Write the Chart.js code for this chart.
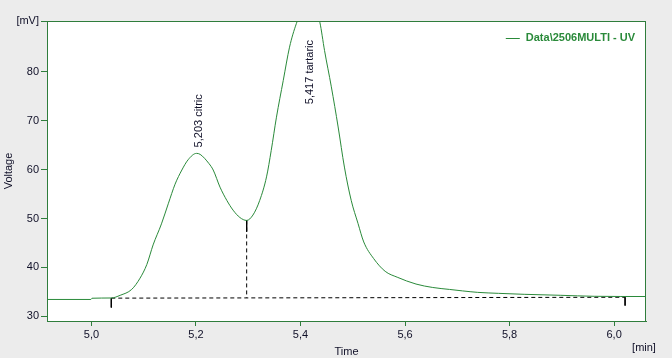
<!DOCTYPE html>
<html>
<head>
<meta charset="utf-8">
<script src="https://cdn.jsdelivr.net/npm/chart.js@4/dist/chart.umd.min.js"></script>
<style>
  html, body { margin: 0; padding: 0; background: #ececec; }
  #wrap { width: 672px; height: 358px; }
</style>
</head>
<body>
<div id="wrap"><canvas id="c" width="672" height="358"></canvas></div>
<script>
// ---- data ----
const timeMin = [4.915, 4.999, 5.001, 5.038, 5.055, 5.077, 5.093, 5.106, 5.118, 5.134, 5.147, 5.160, 5.173, 5.185, 5.201, 5.208, 5.225, 5.233, 5.246, 5.259, 5.271, 5.284, 5.297, 5.309, 5.322, 5.335, 5.344, 5.354, 5.367, 5.379, 5.392, 5.405, 5.417, 5.428, 5.437, 5.446, 5.459, 5.472, 5.484, 5.497, 5.510, 5.521, 5.540, 5.562, 5.585, 5.621, 5.653, 5.685, 5.710, 5.739, 5.779, 5.828, 5.898, 5.962, 6.061];
const voltageMV = [33.45, 33.45, 33.7, 33.75, 34.3, 35.5, 37.8, 40.6, 44.6, 48.9, 53.0, 57.0, 59.9, 62.0, 63.3, 63.1, 61.2, 59.9, 56.4, 53.7, 51.7, 50.2, 49.6, 50.7, 53.7, 58.5, 63.9, 70.7, 78.2, 85.0, 89.8, 93.0, 94.2, 93.2, 90.1, 84.3, 76.9, 68.7, 60.5, 53.7, 49.0, 45.2, 41.8, 39.2, 38.0, 36.6, 35.9, 35.5, 35.2, 34.9, 34.7, 34.5, 34.3, 34.1, 34.05];

const peakTimes = [5.203, 5.417];
const peakValues = [63.3, 94.2];
const peakNames = ["5,203 citric", "5,417 tartaric"];

// integration baseline and markers
const baselineTimes = [5.038, 6.021];
const baselineValues = [33.72, 33.9];
const splitTime = 5.297;
const splitValues = [49.6, 33.76];
const markerStartValues = [33.7, 31.8];
const markerEndValues = [33.9, 32.2];
const markerSplitValues = [49.6, 47.3];

const xTickValues = [5.0, 5.2, 5.4, 5.6, 5.8, 6.0];
const yTickValues = [30, 40, 50, 60, 70, 80];
const xMin = 4.915, xMax = 6.061;
const yMin = 29.05, yMax = 90.35;
const yTopLabel = "[mV]";
const xUnitLabel = "[min]";
const xTitle = "Time";
const yTitle = "Voltage";
const legendLabel = "Data\\2506MULTI - UV";

// ---- styling ----
const GREEN = "#2a8a3a";
const FRAME = "#2f7d3c";
const TXT = "#101028";
const FONT = "'Liberation Sans', Arial, sans-serif";

const pts = (xs, ys) => xs.map((x, i) => ({ x: x, y: ys[i] }));

const decor = {
  id: 'decor',
  beforeDraw(chart) {
    const { ctx, chartArea: a } = chart;
    ctx.save();
    ctx.fillStyle = '#ececec';
    ctx.fillRect(0, 0, chart.width, chart.height);
    ctx.fillStyle = '#ffffff';
    ctx.fillRect(a.left, a.top, a.right - a.left, a.bottom - a.top);
    ctx.restore();
  },
  afterDraw(chart) {
    const { ctx, chartArea: a, scales } = chart;
    ctx.save();
    // frame
    ctx.strokeStyle = FRAME;
    ctx.lineWidth = 1;
    ctx.strokeRect(a.left + 0.5, a.top + 0.5, a.right - a.left - 1, a.bottom - a.top);
    // peak labels
    ctx.font = '11px ' + FONT;
    ctx.fillStyle = TXT;
    ctx.textBaseline = 'middle';
    ctx.textAlign = 'left';
    peakNames.forEach((name, i) => {
      const px = scales.x.getPixelForValue(peakTimes[i]);
      const py = scales.y.getPixelForValue(peakValues[i]);
      const w = ctx.measureText(name).width;
      const bottom = Math.max(py - 6, a.top + 19 + w);
      ctx.save();
      ctx.translate(px + 1, bottom);
      ctx.rotate(-Math.PI / 2);
      ctx.fillText(name, 0, 0);
      ctx.restore();
    });
    // legend
    ctx.font = 'bold 11px ' + FONT;
    ctx.fillStyle = GREEN;
    ctx.textAlign = 'right';
    const lx = a.right - 11;
    const ly = a.top + 17;
    ctx.fillText(legendLabel, lx, ly);
    const lw = ctx.measureText(legendLabel).width;
    ctx.strokeStyle = GREEN;
    ctx.beginPath();
    ctx.moveTo(lx - lw - 20, ly + 0.5);
    ctx.lineTo(lx - lw - 6, ly + 0.5);
    ctx.stroke();
    // axis titles
    ctx.font = '11px ' + FONT;
    ctx.fillStyle = TXT;
    ctx.textAlign = 'center';
    ctx.fillText(xTitle, (a.left + a.right) / 2, a.bottom + 31);
    ctx.fillText(xUnitLabel, a.right - 2, a.bottom + 27);
    ctx.save();
    ctx.translate(9, (a.top + a.bottom) / 2);
    ctx.rotate(-Math.PI / 2);
    ctx.fillText(yTitle, 0, 0);
    ctx.restore();
    ctx.restore();
  }
};

new Chart(document.getElementById('c'), {
  type: 'line',
  data: {
    datasets: [
      { data: pts(timeMin, voltageMV), borderColor: GREEN, borderWidth: 1, pointRadius: 0, cubicInterpolationMode: 'monotone', order: 1 },
      { data: pts(baselineTimes, baselineValues), borderColor: '#000', borderWidth: 1, borderDash: [4, 3], pointRadius: 0, order: 2 },
      { data: pts([splitTime, splitTime], splitValues), borderColor: '#000', borderWidth: 1, borderDash: [4, 3], pointRadius: 0, order: 2 },
      { data: pts([baselineTimes[0], baselineTimes[0]], markerStartValues), borderColor: '#000', borderWidth: 1, pointRadius: 0, order: 2 },
      { data: pts([baselineTimes[1], baselineTimes[1]], markerEndValues), borderColor: '#000', borderWidth: 1, pointRadius: 0, order: 2 },
      { data: pts([splitTime, splitTime], markerSplitValues), borderColor: '#000', borderWidth: 1, pointRadius: 0, order: 2 }
    ]
  },
  options: {
    responsive: false,
    animation: false,
    events: [],
    layout: { padding: { top: 21, right: 26, left: 0, bottom: 0 } },
    plugins: { legend: { display: false }, tooltip: { enabled: false } },
    scales: {
      x: {
        type: 'linear', min: xMin, max: xMax,
        afterFit: s => { s.height = 37; },
        afterBuildTicks: s => { s.ticks = xTickValues.map(v => ({ value: v })); },
        grid: { drawOnChartArea: false, drawTicks: true, tickLength: 5, color: FRAME, tickColor: FRAME },
        border: { display: true, color: FRAME, width: 1 },
        ticks: {
          autoSkip: false, maxRotation: 0, padding: 2, color: TXT,
          font: { family: FONT, size: 11 },
          callback: v => v.toFixed(1).replace('.', ',')
        }
      },
      y: {
        type: 'linear', min: yMin, max: yMax,
        afterFit: s => { s.width = 47; },
        afterBuildTicks: s => { s.ticks = yTickValues.concat([yMax]).map(v => ({ value: v })); },
        grid: { drawOnChartArea: false, drawTicks: true, tickLength: 6, color: FRAME, tickColor: FRAME },
        border: { display: true, color: FRAME, width: 1 },
        ticks: {
          autoSkip: false, padding: 2, color: TXT,
          font: { family: FONT, size: 11 },
          callback: v => (v === yMax ? yTopLabel : String(v))
        }
      }
    }
  },
  plugins: [decor]
});
</script>
</body>
</html>
